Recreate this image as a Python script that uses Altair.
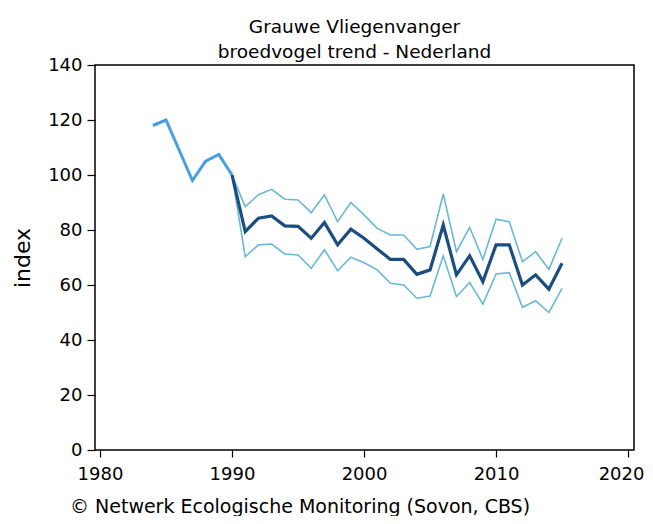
import altair as alt
import pandas as pd

FONT = "DejaVu Sans"

early_years = [1984, 1985, 1986, 1987, 1988, 1989, 1990]
early_index = [118, 120, 109, 98, 105, 107.5, 100]

years = list(range(1990, 2016))
index = [100, 79.4, 84.3, 85.1, 81.5, 81.3, 77, 82.7, 74.6, 80.3, 77, 73.1, 69.3,
         69.3, 63.9, 65.5, 81.8, 63.7, 70.6, 61.2, 74.6, 74.6, 60, 63.7, 58.5, 67.9]
upper = [100, 88.5, 92.8, 94.8, 91.2, 90.9, 86.3, 92.8, 83, 90, 85.5, 80.6, 78.2,
         78.2, 73, 74, 93.1, 72.1, 81, 69.3, 83.9, 83, 68.5, 72.1, 65.7, 77]
lower = [100, 70.3, 74.6, 74.9, 71.3, 70.9, 66.1, 72.8, 65.2, 70.1, 68.1, 65.5, 60.6,
         60, 55.2, 56, 70.6, 55.8, 60.9, 53.1, 64, 64.5, 51.9, 54.3, 50, 58.8]

title_lines = ["Grauwe Vliegenvanger", "broedvogel trend - Nederland"]
footer = "© Netwerk Ecologische Monitoring (Sovon, CBS)"
x_ticks = [1980, 1990, 2000, 2010, 2020]
y_ticks = [0, 20, 40, 60, 80, 100, 120, 140]

early_df = pd.DataFrame({"jaar": early_years, "index": early_index})
band_df = pd.DataFrame(
    {"jaar": years * 2, "index": upper + lower,
     "reeks": ["boven"] * len(years) + ["onder"] * len(years)})
main_df = pd.DataFrame({"jaar": years, "index": index})

x_enc = alt.X("jaar:Q",
              scale=alt.Scale(domain=[1979.62, 2020.45], nice=False, zero=False),
              axis=alt.Axis(values=x_ticks, format="d", title=None, grid=False,
                            domain=False, tickColor="black", tickSize=7, tickWidth=1.2,
                            labelFont=FONT, labelFontSize=18, labelColor="black",
                            labelPadding=8, labelFlush=False,
                            labelOffset={"condition": {"test": "datum.value == 2020",
                                                       "value": -7},
                                         "value": 0}))
y_enc = alt.Y("index:Q",
              scale=alt.Scale(domain=[0, 140], nice=False),
              axis=alt.Axis(values=y_ticks, title="index", grid=False, domain=False,
                            tickColor="black", tickSize=8, tickWidth=1.2,
                            labelFont=FONT, labelFontSize=18, labelColor="black",
                            labelPadding=5,
                            titleFont=FONT, titleFontSize=22, titleFontWeight="normal",
                            titleColor="black", titleX=-73, titleY=192.5,
                            titleBaseline="middle", titleAngle=270))

bands = alt.Chart(band_df).mark_line(color="#6ab8d8", strokeWidth=1.6,
                                     strokeJoin="miter").encode(
    x=x_enc, y=y_enc, detail="reeks:N", order=alt.Order("jaar:Q"))
early = alt.Chart(early_df).mark_line(color="#4a9ee0", strokeWidth=3,
                                      strokeJoin="miter").encode(
    x=x_enc, y=y_enc, order=alt.Order("jaar:Q"))
main = alt.Chart(main_df).mark_line(color="#1a4e80", strokeWidth=3.2,
                                    strokeJoin="miter").encode(
    x=x_enc, y=y_enc, order=alt.Order("jaar:Q"))

foot = alt.Chart(pd.DataFrame({"t": [footer]})).mark_text(
    align="left", baseline="alphabetic", font=FONT, fontSize=19, color="black"
).encode(x=alt.value(-25), y=alt.value(448), text="t:N")

chart = alt.layer(bands, early, main, foot).properties(
    width=539, height=385,
    title=alt.TitleParams(text=title_lines, font=FONT, fontSize=18.5, fontWeight="normal",
                          color="black", anchor="middle", lineHeight=25, offset=6,
                          dy=11, dx=-10),
    autosize=alt.AutoSizeParams(type="none"),
    padding={"left": 87, "top": 57, "right": 11, "bottom": 66},
).configure(background="white").configure_view(stroke="black", strokeWidth=1.5)

chart.save("out.html", embed_options={"renderer": "svg", "actions": False})
